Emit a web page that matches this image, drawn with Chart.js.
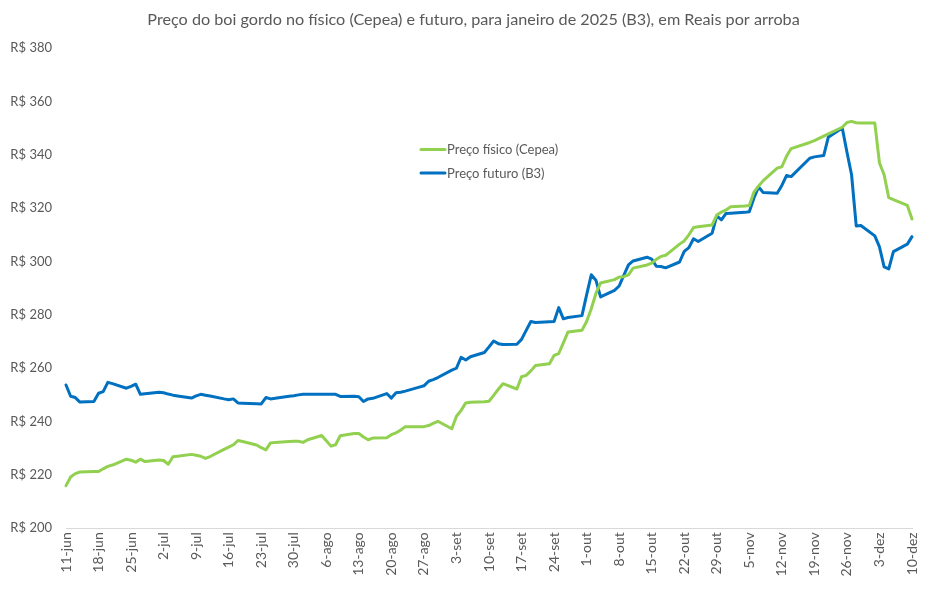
<!DOCTYPE html>
<html><head><meta charset="utf-8">
<script src="https://cdn.jsdelivr.net/npm/chart.js@4.4.1/dist/chart.umd.min.js"></script>
<style>html,body{margin:0;padding:0;background:#fff;}#wrap{width:947px;height:589px;position:relative;}</style>
</head><body><div id="wrap"><canvas id="c" width="947" height="589"></canvas></div>
<script>
const chartTitle = 'Preço do boi gordo no físico (Cepea) e futuro, para janeiro de 2025 (B3), em Reais por arroba';
const seriesNames = ['Preço físico (Cepea)', 'Preço futuro (B3)'];

const dates = [
 '2024-06-11','2024-06-12','2024-06-13','2024-06-14','2024-06-17','2024-06-18','2024-06-19','2024-06-20','2024-06-21','2024-06-24','2024-06-25','2024-06-26','2024-06-27','2024-06-28',
 '2024-07-01','2024-07-02','2024-07-03','2024-07-04','2024-07-05','2024-07-08','2024-07-09','2024-07-10','2024-07-11','2024-07-12','2024-07-15','2024-07-16','2024-07-17','2024-07-18','2024-07-19','2024-07-22','2024-07-23','2024-07-24','2024-07-25','2024-07-26','2024-07-29','2024-07-30','2024-07-31',
 '2024-08-01','2024-08-02','2024-08-05','2024-08-06','2024-08-07','2024-08-08','2024-08-09','2024-08-12','2024-08-13','2024-08-14','2024-08-15','2024-08-16','2024-08-19','2024-08-20','2024-08-21','2024-08-22','2024-08-23','2024-08-26','2024-08-27','2024-08-28','2024-08-29','2024-08-30',
 '2024-09-02','2024-09-03','2024-09-04','2024-09-05','2024-09-06','2024-09-09','2024-09-10','2024-09-11','2024-09-12','2024-09-13','2024-09-16','2024-09-17','2024-09-18','2024-09-19','2024-09-20','2024-09-23','2024-09-24','2024-09-25','2024-09-26','2024-09-27','2024-09-30',
 '2024-10-01','2024-10-02','2024-10-03','2024-10-04','2024-10-07','2024-10-08','2024-10-09','2024-10-10','2024-10-11','2024-10-14','2024-10-15','2024-10-16','2024-10-17','2024-10-18','2024-10-21','2024-10-22','2024-10-23','2024-10-24','2024-10-25','2024-10-28','2024-10-29','2024-10-30','2024-10-31',
 '2024-11-01','2024-11-04','2024-11-05','2024-11-06','2024-11-07','2024-11-08','2024-11-11','2024-11-12','2024-11-13','2024-11-14','2024-11-18','2024-11-19','2024-11-21','2024-11-22','2024-11-25','2024-11-26','2024-11-27','2024-11-28','2024-11-29',
 '2024-12-02','2024-12-03','2024-12-04','2024-12-05','2024-12-06','2024-12-09','2024-12-10'
];

const cepea = [
 216.0,219.2,220.5,221.1,221.3,221.3,222.3,223.2,223.7,225.9,225.5,224.8,225.9,225.0,
 225.6,225.4,224.0,226.8,227.0,227.7,227.4,227.0,226.2,226.9,229.6,230.4,231.3,232.9,232.5,231.2,230.2,229.4,232.0,232.2,232.5,232.6,232.6,
 232.2,233.2,234.8,232.8,230.8,231.3,234.7,235.5,235.5,234.2,233.2,233.8,233.9,235.1,235.8,236.8,238.1,238.1,238.1,238.5,239.3,240.1,
 237.3,242.0,244.2,247.0,247.2,247.4,247.6,249.8,252.1,254.2,252.2,256.8,257.3,259.0,261.0,261.7,264.8,265.5,269.5,273.6,274.2,
 277.5,282.3,288.0,291.9,293.2,294.2,294.3,295.0,297.5,298.7,299.4,300.8,301.9,302.3,306.5,307.7,310.0,312.7,313.0,313.7,317.4,318.5,319.3,
 320.5,320.8,321.0,326.0,328.3,330.3,335.0,335.5,339.4,342.3,344.6,345.3,347.0,347.8,350.3,352.1,352.5,352.0,351.9,
 351.9,336.9,332.5,323.9,323.2,321.0,315.9
];

const b3 = [
 253.7,249.5,249.0,247.3,247.5,250.6,251.2,254.7,254.2,252.5,253.2,254.0,250.2,250.4,
 251.0,250.8,250.3,249.9,249.6,248.8,249.6,250.2,249.9,249.6,248.5,248.2,248.5,247.0,246.9,246.7,246.6,249.0,248.5,248.7,249.5,249.7,250.0,
 250.2,250.2,250.2,250.2,250.2,250.2,249.4,249.5,249.3,247.5,248.5,248.7,250.5,248.8,250.8,251.0,251.4,252.9,253.4,255.1,255.7,256.5,
 259.3,260.0,264.1,263.1,264.3,265.9,268.0,270.2,269.2,268.9,269.0,270.8,274.2,277.5,277.1,277.4,277.5,282.7,278.5,279.0,279.7,
 287.5,295.0,293.0,286.7,289.2,290.8,294.8,298.7,300.2,301.6,300.9,298.2,298.1,297.6,299.8,303.8,305.2,308.5,307.5,310.6,317.1,315.6,318.0,
 318.1,318.4,318.6,323.8,327.9,325.8,325.6,328.5,332.2,331.8,338.7,339.2,339.7,346.6,350.0,341.0,332.5,313.3,313.5,
 309.6,305.5,298.0,297.2,303.7,306.5,309.3
];

const xTickLabels = ['11-jun','18-jun','25-jun','2-jul','9-jul','16-jul','23-jul','30-jul','6-ago','13-ago','20-ago','27-ago','3-set','10-set','17-set','24-set','1-out','8-out','15-out','22-out','29-out','5-nov','12-nov','19-nov','26-nov','3-dez','10-dez'];
const yMin = 200, yMax = 380, yStep = 20;
const xTickStepDays = 7;

const startDate = dates[0];
function dayOffset(s) {
  const p = s.split('-').map(Number), q = startDate.split('-').map(Number);
  return Math.round((Date.UTC(p[0], p[1]-1, p[2]) - Date.UTC(q[0], q[1]-1, q[2])) / 86400000);
}
const xMax = dayOffset(dates[dates.length-1]);

const TXT = '#595959';
Chart.defaults.font.family = 'Lato, "Open Sans", sans-serif';

const inlineLegend = {
  id: 'inlineLegend',
  afterDatasetsDraw(chart) {
    const ctx = chart.ctx;
    ctx.save();
    chart.data.datasets.forEach((ds, i) => {
      const y = 149.5 + i * 23.5;
      ctx.strokeStyle = ds.borderColor;
      ctx.lineWidth = 3;
      ctx.lineCap = 'round';
      ctx.beginPath(); ctx.moveTo(421, y); ctx.lineTo(445, y); ctx.stroke();
      ctx.fillStyle = TXT;
      ctx.font = '13px Lato, "Open Sans", sans-serif';
      ctx.textBaseline = 'middle';
      ctx.textAlign = 'left';
      ctx.fillText(ds.label, 447, y + 0.5);
    });
    ctx.restore();
  }
};

new Chart(document.getElementById('c'), {
  type: 'line',
  data: {
    datasets: [
      { label: seriesNames[0], data: dates.map((d, i) => ({x: dayOffset(d), y: cepea[i]})),
        borderColor: '#92D050', backgroundColor: '#92D050', borderWidth: 3, pointRadius: 0, tension: 0,
        borderJoinStyle: 'round', borderCapStyle: 'round', clip: false },
      { label: seriesNames[1], data: dates.map((d, i) => ({x: dayOffset(d), y: b3[i]})),
        borderColor: '#0070C0', backgroundColor: '#0070C0', borderWidth: 3, pointRadius: 0, tension: 0,
        borderJoinStyle: 'round', borderCapStyle: 'round', clip: false }
    ]
  },
  options: {
    responsive: false,
    animation: false,
    devicePixelRatio: 1,
    layout: { padding: { left: 0, right: 0, top: 0, bottom: 0 } },
    plugins: {
      legend: { display: false },
      tooltip: { enabled: false },
      title: { display: true, text: chartTitle, color: TXT,
        font: { size: 16.2, weight: 'normal' }, padding: { top: 10, bottom: 18.56 } }
    },
    scales: {
      x: {
        type: 'linear', min: 0, max: xMax,
        grid: { display: false, drawTicks: false },
        border: { display: true, color: '#D9D9D9', width: 1 },
        ticks: { stepSize: xTickStepDays, autoSkip: false, minRotation: 90, maxRotation: 90,
          color: TXT, font: { size: 14 }, padding: 4,
          callback: (v, i) => xTickLabels[i] },
        afterFit: s => { s.height = 60.7; }
      },
      y: {
        min: yMin, max: yMax,
        grid: { display: false, drawTicks: false },
        border: { display: false },
        ticks: { stepSize: yStep, color: TXT, font: { size: 13 }, padding: 14,
          callback: v => 'R$ ' + v },
        afterFit: s => { s.width = 66; }
      },
      rightSpacer: {
        position: 'right', min: yMin, max: yMax,
        grid: { display: false, drawTicks: false },
        border: { display: false },
        ticks: { display: false },
        afterFit: s => { s.width = 35; }
      }
    }
  },
  plugins: [inlineLegend]
});
</script></body></html>
